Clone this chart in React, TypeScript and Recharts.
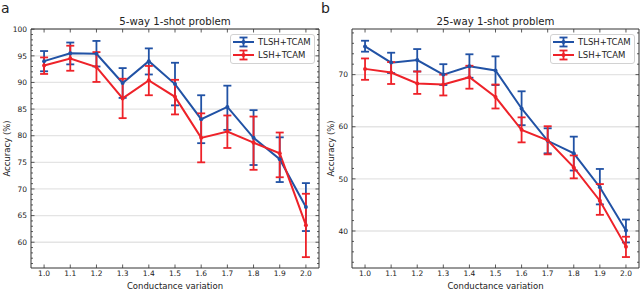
import {
  ComposedChart,
  Line,
  XAxis,
  YAxis,
  ErrorBar,
  ReferenceLine,
  Legend,
} from "recharts";

const FONT = "DejaVu Sans, sans-serif";
const INK = "#222";
const AXIS = "#333";
const GRID = "#e4e4e4";
const BLUE = "#2152a5";
const RED = "#ee2229";

const conductance = [1.0, 1.1, 1.2, 1.3, 1.4, 1.5, 1.6, 1.7, 1.8, 1.9, 2.0];
const xTicks = [1.0, 1.1, 1.2, 1.3, 1.4, 1.5, 1.6, 1.7, 1.8, 1.9, 2.0];

// (a) 5-way 1-shot
const tlsh5 = [94.0, 95.5, 95.4, 89.9, 94.0, 89.7, 83.1, 85.4, 79.6, 75.6, 66.6];
const tlsh5Low = [92.1, 93.4, 93.0, 87.1, 91.5, 85.7, 78.6, 81.1, 74.5, 71.3, 62.1];
const tlsh5High = [95.9, 97.5, 97.8, 92.7, 96.4, 93.7, 87.6, 89.4, 84.8, 79.7, 71.1];
const lsh5 = [93.2, 94.5, 92.9, 87.0, 90.4, 87.3, 79.6, 80.8, 78.7, 76.7, 63.2];
const lsh5Low = [91.6, 92.2, 90.1, 83.3, 87.6, 84.0, 75.0, 77.7, 73.6, 72.2, 57.2];
const lsh5High = [94.7, 96.9, 95.7, 90.7, 93.1, 90.5, 84.2, 83.8, 83.6, 80.6, 69.1];
const yMajor5 = [60, 65, 70, 75, 80, 85, 90, 95, 100];

// (b) 25-way 1-shot
const tlsh25 = [75.4, 72.3, 72.8, 70.0, 71.6, 70.8, 63.5, 57.3, 54.9, 48.4, 40.1];
const tlsh25Low = [74.4, 70.3, 70.6, 68.0, 69.4, 68.0, 60.3, 54.9, 51.6, 45.1, 37.8];
const tlsh25High = [76.5, 74.2, 74.9, 72.0, 73.9, 73.5, 66.8, 59.7, 58.1, 51.9, 42.2];
const lsh25 = [71.1, 70.4, 68.3, 68.1, 69.5, 65.7, 59.4, 57.4, 52.2, 45.8, 37.0];
const lsh25Low = [69.0, 68.2, 66.3, 66.0, 67.3, 63.5, 57.0, 54.7, 50.1, 43.1, 35.0];
const lsh25High = [73.1, 72.4, 70.6, 70.0, 71.7, 68.1, 61.8, 60.1, 54.5, 49.0, 38.9];
const yMajor25 = [40, 50, 60, 70];

const range = (a: number, b: number, step: number) => {
  const out: number[] = [];
  for (let v = a; v <= b; v += step) out.push(v);
  return out;
};

function buildRows(
  tl: number[], tlLo: number[], tlHi: number[],
  ls: number[], lsLo: number[], lsHi: number[]
) {
  return conductance.map((x, i) => ({
    x,
    tlsh: tl[i],
    tlshErr: [tl[i] - tlLo[i], tlHi[i] - tl[i]],
    lsh: ls[i],
    lshErr: [ls[i] - lsLo[i], lsHi[i] - ls[i]],
  }));
}

const series = [
  { name: "TLSH+TCAM", key: "tlsh", err: "tlshErr", color: BLUE },
  { name: "LSH+TCAM", key: "lsh", err: "lshErr", color: RED },
];

function yTick(majors: number[], side: "left" | "right") {
  return (p: any) => {
    const v = p.payload.value;
    const major = majors.includes(v);
    const len = major ? 3.5 : 2;
    const dir = side === "left" ? 1 : -1;
    return (
      <g>
        <line x1={p.x} x2={p.x + dir * len} y1={p.y} y2={p.y} stroke={AXIS} strokeWidth={0.8} />
        {side === "left" && major && (
          <text x={p.x - 4} y={p.y} dy="0.36em" textAnchor="end" fontSize={7.5} fontFamily={FONT} fill={INK}>
            {v}
          </text>
        )}
      </g>
    );
  };
}

function xTick(side: "top" | "bottom") {
  return (p: any) => {
    const dir = side === "bottom" ? -1 : 1;
    return (
      <g>
        <line x1={p.x} x2={p.x} y1={p.y} y2={p.y + dir * 3.5} stroke={AXIS} strokeWidth={0.8} />
        {side === "bottom" && (
          <text x={p.x} y={p.y + 3} dy="0.72em" textAnchor="middle" fontSize={7.5} fontFamily={FONT} fill={INK}>
            {Number(p.payload.value).toFixed(1)}
          </text>
        )}
      </g>
    );
  };
}

function LegendBox() {
  return (
    <div
      style={{
        border: "1px solid #d2d2d2",
        borderRadius: 3,
        background: "rgba(255,255,255,0.85)",
        padding: "1px 3px 2px 2px",
        fontFamily: FONT,
        fontSize: 8.5,
        color: INK,
        boxSizing: "border-box",
      }}
    >
      {series.map((s) => (
        <div key={s.name} style={{ display: "flex", alignItems: "center", height: 12.4 }}>
          <svg width={25} height={12} style={{ display: "block" }}>
            <line x1={0} x2={21} y1={6} y2={6} stroke={s.color} strokeWidth={2} />
            <line x1={10.5} x2={10.5} y1={1.5} y2={10.5} stroke={s.color} strokeWidth={1.8} />
            <line x1={6.5} x2={14.5} y1={1.5} y2={1.5} stroke={s.color} strokeWidth={1.8} />
            <line x1={6.5} x2={14.5} y1={10.5} y2={10.5} stroke={s.color} strokeWidth={1.8} />
            <circle cx={10.5} cy={6} r={2} fill={s.color} />
          </svg>
          <span style={{ lineHeight: "12px", whiteSpace: "nowrap" }}>{s.name}</span>
        </div>
      ))}
    </div>
  );
}

interface PanelProps {
  letter: string;
  title: string;
  rows: any[];
  yDomain: [number, number];
  yMajors: number[];
  yMinorStep: number;
  axisWidth: number;
  labelOffset: number;
}

function Panel({ letter, title, rows, yDomain, yMajors, yMinorStep, axisWidth, labelOffset }: PanelProps) {
  const yTicks = range(Math.ceil(yDomain[0] / yMinorStep) * yMinorStep, yDomain[1], yMinorStep);
  const plotLeft = axisWidth;
  const plotRight = 319;
  return (
    <div style={{ position: "relative", width: 320, height: 290 }}>
      <ComposedChart width={320} height={290} data={rows} margin={{ top: 28, right: 0, left: 0, bottom: 0 }}>
        {yMajors.map((v) => (
          <ReferenceLine key={v} y={v} stroke={GRID} strokeWidth={1.3} />
        ))}
        <XAxis
          dataKey="x"
          type="number"
          domain={[0.95, 2.05]}
          ticks={xTicks}
          allowDataOverflow
          height={22}
          tickSize={0}
          tickMargin={0}
          interval={0}
          tickLine={false}
          axisLine={{ stroke: AXIS, strokeWidth: 1 }}
          tick={xTick("bottom")}
          label={{ value: "Conductance variation", position: "insideBottom", offset: 1, fontSize: 8.5, fontFamily: FONT, fill: INK }}
        />
        <XAxis
          xAxisId="top"
          orientation="top"
          dataKey="x"
          type="number"
          domain={[0.95, 2.05]}
          ticks={xTicks}
          allowDataOverflow
          height={1}
          tickSize={0}
          tickMargin={0}
          interval={0}
          tickLine={false}
          axisLine={{ stroke: AXIS, strokeWidth: 1 }}
          tick={xTick("top")}
        />
        <YAxis
          type="number"
          domain={yDomain}
          ticks={yTicks}
          allowDataOverflow
          width={axisWidth}
          tickSize={0}
          tickMargin={0}
          interval={0}
          tickLine={false}
          axisLine={{ stroke: AXIS, strokeWidth: 1 }}
          tick={yTick(yMajors, "left")}
          label={{
            value: "Accuracy (%)",
            angle: -90,
            position: "insideLeft",
            offset: labelOffset,
            fontSize: 8.5,
            fontFamily: FONT,
            fill: INK,
            style: { textAnchor: "middle" },
          }}
        />
        <YAxis
          yAxisId="right"
          orientation="right"
          type="number"
          domain={yDomain}
          ticks={yTicks}
          allowDataOverflow
          width={1}
          tickSize={0}
          tickMargin={0}
          interval={0}
          tickLine={false}
          axisLine={{ stroke: AXIS, strokeWidth: 1 }}
          tick={yTick(yMajors, "right")}
        />
        {series.map((s) => (
          <Line
            key={s.key}
            type="linear"
            dataKey={s.key}
            stroke={s.color}
            strokeWidth={2}
            dot={{ r: 2, fill: s.color, stroke: s.color, strokeWidth: 0 }}
            activeDot={false}
            isAnimationActive={false}
          >
            <ErrorBar dataKey={s.err} direction="y" width={4} stroke={s.color} strokeWidth={1.8} isAnimationActive={false} />
          </Line>
        ))}
        <Legend
          layout="horizontal"
          verticalAlign="middle"
          align="center"
          content={() => <LegendBox />}
          wrapperStyle={{ left: 230, top: 34, width: 85, height: "auto" }}
        />
      </ComposedChart>
      <svg width={320} height={30} style={{ position: "absolute", left: 0, top: 0, pointerEvents: "none" }}>
        <text x={1} y={12.7} fontSize={14} fontFamily={FONT} fill={INK}>
          {letter}
        </text>
        <text x={(plotLeft + plotRight) / 2} y={25} textAnchor="middle" fontSize={10.2} fontFamily={FONT} fill={INK}>
          {title}
        </text>
      </svg>
    </div>
  );
}

export default function App() {
  const rowsA = buildRows(tlsh5, tlsh5Low, tlsh5High, lsh5, lsh5Low, lsh5High);
  const rowsB = buildRows(tlsh25, tlsh25Low, tlsh25High, lsh25, lsh25Low, lsh25High);
  return (
    <div style={{ position: "absolute", left: 0, top: 0, width: 640, height: 290, background: "#fff", display: "flex" }}>
      <Panel
        letter="a"
        title="5-way 1-shot problem"
        rows={rowsA}
        yDomain={[55.16, 100.04]}
        yMajors={yMajor5}
        yMinorStep={1}
        axisWidth={31}
        labelOffset={7}
      />
      <Panel
        letter="b"
        title="25-way 1-shot problem"
        rows={rowsB}
        yDomain={[32.9, 78.75]}
        yMajors={yMajor25}
        yMinorStep={2}
        axisWidth={32}
        labelOffset={11}
      />
    </div>
  );
}
